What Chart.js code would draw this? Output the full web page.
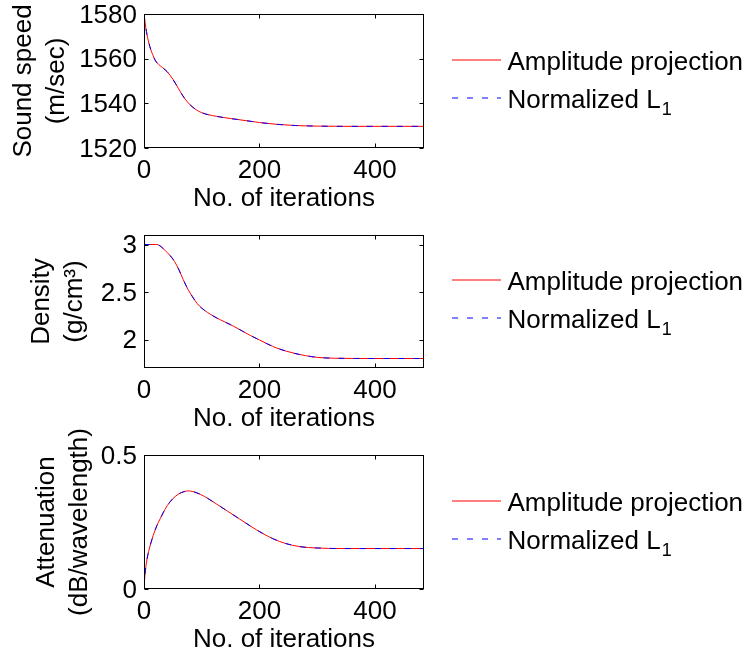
<!DOCTYPE html>
<html><head><meta charset="utf-8">
<script src="https://cdn.jsdelivr.net/npm/chart.js@4.4.0/dist/chart.umd.min.js"></script>
<style>
html,body{margin:0;padding:0;background:#fff;}
#wrap{position:relative;width:755px;height:657px;overflow:hidden;background:#fff;}
canvas{position:absolute;left:0;top:0;}
</style></head><body>
<div id="wrap">
<canvas id="c1" width="755" height="657"></canvas>
<canvas id="c2" width="755" height="657"></canvas>
<canvas id="c3" width="755" height="657"></canvas>
</div>
<script>
// ---- data ----
const xTicks = [0, 200, 400];
const xMax = 485;
const seriesNames = ['Amplitude projection', 'Normalized L_1'];
const seriesColors = ['rgb(255,0,0)', 'rgb(0,0,255)'];
const xTitle = 'No. of iterations';

const speedIter = [0, 2, 5, 10, 15, 20, 25, 32, 40, 50, 60, 70, 80, 90, 100, 125, 150, 175, 200, 230, 260, 300, 350, 400, 485];
const speedAmp  = [1580, 1576, 1571, 1565.5, 1561.8, 1559, 1557.5, 1556, 1554.2, 1550.8, 1546.5, 1542.3, 1539.3, 1537.2, 1535.8, 1534.2, 1533.2, 1532.3, 1531.4, 1530.6, 1530.1, 1529.8, 1529.7, 1529.7, 1529.7];
const speedL1   = [1580, 1576, 1571, 1565.5, 1561.8, 1559, 1557.5, 1556, 1554.2, 1550.8, 1546.5, 1542.3, 1539.3, 1537.2, 1535.8, 1534.2, 1533.2, 1532.3, 1531.4, 1530.6, 1530.1, 1529.8, 1529.7, 1529.7, 1529.7];
const speedTicks = [1520, 1540, 1560, 1580];
const speedTitle = ['Sound speed', '(m/sec)'];

const densIter = [0, 10, 20, 25, 30, 37, 45, 53, 60, 68, 76, 84, 92, 100, 110, 125, 140, 155, 170, 185, 200, 215, 230, 245, 260, 280, 300, 330, 400, 485];
const densAmp  = [3, 3, 3, 2.995, 2.975, 2.935, 2.885, 2.82, 2.74, 2.63, 2.53, 2.45, 2.38, 2.33, 2.285, 2.23, 2.185, 2.14, 2.09, 2.04, 1.995, 1.95, 1.91, 1.88, 1.855, 1.83, 1.812, 1.803, 1.8, 1.8];
const densL1   = [3, 3, 3, 2.995, 2.975, 2.935, 2.885, 2.82, 2.74, 2.63, 2.53, 2.45, 2.38, 2.33, 2.285, 2.23, 2.185, 2.14, 2.09, 2.04, 1.995, 1.95, 1.91, 1.88, 1.855, 1.83, 1.812, 1.803, 1.8, 1.8];
const densTicks = [2, 2.5, 3];
const densTitle = ['Density', '(g/cm\u00B3)'];

const attIter = [0, 1, 2, 4, 8, 12, 16, 22, 28, 36, 45, 55, 65, 77, 90, 105, 125, 145, 165, 185, 205, 225, 245, 270, 300, 340, 400, 485];
const attAmp  = [0, 0.035, 0.06, 0.095, 0.14, 0.172, 0.2, 0.235, 0.262, 0.296, 0.325, 0.347, 0.36, 0.366, 0.36, 0.345, 0.318, 0.29, 0.262, 0.234, 0.208, 0.186, 0.17, 0.158, 0.153, 0.151, 0.151, 0.151];
const attL1   = [0, 0.035, 0.06, 0.095, 0.14, 0.172, 0.2, 0.235, 0.262, 0.296, 0.325, 0.347, 0.36, 0.366, 0.36, 0.345, 0.318, 0.29, 0.262, 0.234, 0.208, 0.186, 0.17, 0.158, 0.153, 0.151, 0.151, 0.151];
const attTicks = [0, 0.5];
const attTitle = ['Attenuation', '(dB/wavelength)'];

// ---- styling / plugins ----
const FONT = '"Liberation Sans", Arial, Helvetica, sans-serif';
Chart.defaults.color = '#000';
Chart.defaults.font.family = FONT;

const framePlugin = {
  id: 'frame',
  afterDatasetsDraw(chart) {
    const {ctx, chartArea: a, scales: {x, y}} = chart;
    const L = Math.round(a.left) + 0.5, R = Math.round(a.right) - 0.5;
    const T = Math.round(a.top) + 0.5, B = Math.round(a.bottom) - 0.5;
    const tl = 4;
    ctx.save();
    ctx.strokeStyle = '#000';
    ctx.lineWidth = 1;
    ctx.setLineDash([]);
    ctx.beginPath();
    x.ticks.forEach(t => {
      const px = Math.round(x.getPixelForValue(t.value)) + 0.5;
      ctx.moveTo(px, B); ctx.lineTo(px, B - tl);
      ctx.moveTo(px, T); ctx.lineTo(px, T + tl);
    });
    y.ticks.forEach(t => {
      const py = Math.round(y.getPixelForValue(t.value)) + 0.5;
      ctx.moveTo(L, py); ctx.lineTo(L + tl, py);
      ctx.moveTo(R, py); ctx.lineTo(R - tl, py);
    });
    ctx.stroke();
    ctx.strokeRect(L, T, R - L, B - T);
    ctx.restore();
  }
};

const legendPlugin = {
  id: 'sideLegend',
  afterDraw(chart) {
    const {ctx, chartArea: a} = chart;
    const cy = (a.top + a.bottom) / 2;
    const rows = [cy - 21.5, cy + 16.5];
    const x1 = a.right + 28, x2 = a.right + 77, tx = a.right + 83.5;
    ctx.save();
    chart.data.datasets.forEach((ds, i) => {
      const y = Math.round(rows[i]);
      ctx.strokeStyle = seriesColors[i];
      ctx.lineWidth = 1;
      ctx.setLineDash(ds.borderDash || []);
      ctx.beginPath();
      ctx.moveTo(x1, y); ctx.lineTo(x2, y);
      ctx.stroke();
      ctx.setLineDash([]);
      const parts = ds.label.split('_');
      ctx.fillStyle = '#000';
      ctx.textBaseline = 'alphabetic';
      ctx.textAlign = 'left';
      ctx.font = '26px ' + FONT;
      ctx.fillText(parts[0], tx, y + 9.5);
      if (parts[1]) {
        const w = ctx.measureText(parts[0]).width;
        ctx.font = '18px ' + FONT;
        ctx.fillText(parts[1], tx + w + 1, y + 17);
      }
    });
    ctx.restore();
  }
};

function makeChart(id, iter, amp, l1, yMin, yMax, yTicks, yTitle, titlePad, top, bottom) {
  const H = 657, xH = 66;
  const toPts = (xs, ys) => xs.map((v, i) => ({x: v, y: ys[i]}));
  return new Chart(document.getElementById(id), {
    type: 'line',
    data: {
      datasets: [
        {label: seriesNames[0], data: toPts(iter, amp), borderColor: seriesColors[0], borderWidth: 1, order: 1,
         pointRadius: 0, cubicInterpolationMode: 'monotone', fill: false},
        {label: seriesNames[1], data: toPts(iter, l1), borderColor: seriesColors[1], borderWidth: 1, order: 0,
         borderDash: [6, 9], pointRadius: 0, cubicInterpolationMode: 'monotone', fill: false}
      ]
    },
    options: {
      responsive: false,
      animation: false,
      events: [],
      devicePixelRatio: 1,
      layout: {padding: {left: 0, right: 755 - 424, top: top, bottom: H - bottom - xH}},
      plugins: {legend: {display: false}, tooltip: {enabled: false}},
      scales: {
        x: {
          type: 'linear', min: 0, max: xMax,
          grid: {display: false, drawTicks: false},
          border: {display: false},
          afterBuildTicks: s => { s.ticks = xTicks.map(v => ({value: v})); },
          afterFit: s => { s.height = xH; s.paddingLeft = 0; s.paddingRight = 0; },
          ticks: {padding: 7, maxRotation: 0, font: {size: 26, family: FONT}, color: '#000',
                  callback: v => String(v)},
          title: {display: true, text: xTitle, font: {size: 26, family: FONT, lineHeight: 1.2},
                  color: '#000', padding: {top: 0, bottom: 0}}
        },
        y: {
          type: 'linear', min: yMin, max: yMax,
          grid: {display: false, drawTicks: false},
          border: {display: false},
          afterBuildTicks: s => { s.ticks = yTicks.map(v => ({value: v})); },
          afterFit: s => { s.width = 144; s.paddingTop = 0; s.paddingBottom = 0; },
          ticks: {padding: 7, labelOffset: 1.5, font: {size: 26, family: FONT}, color: '#000',
                  callback: v => String(v)},
          title: {display: true, text: yTitle, font: {size: 26, family: FONT, lineHeight: 1.27},
                  color: '#000', padding: {top: titlePad, bottom: 0}}
        }
      }
    },
    plugins: [framePlugin, legendPlugin]
  });
}

makeChart('c1', speedIter, speedAmp, speedL1, 1520, 1580, speedTicks, speedTitle, 7, 14, 148);
makeChart('c2', densIter, densAmp, densL1, 1.7, 3.1, densTicks, densTitle, 25, 235, 368);
makeChart('c3', attIter, attAmp, attL1, 0, 0.5, attTicks, attTitle, 30, 455, 589);
</script>
</body></html>
